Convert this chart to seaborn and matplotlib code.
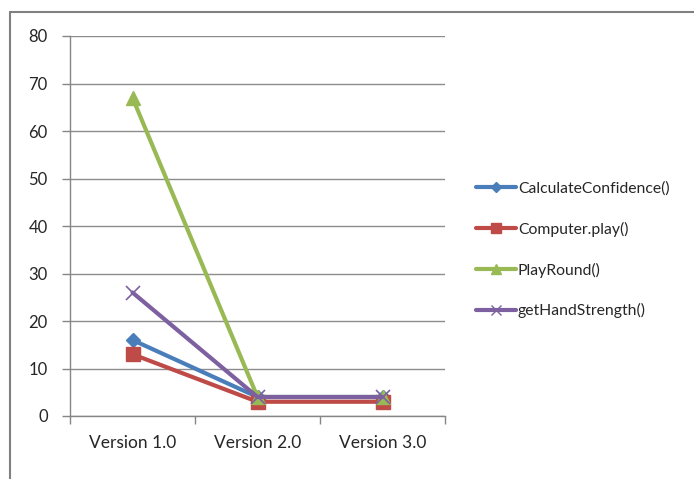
import matplotlib
matplotlib.use("Agg")
import matplotlib.pyplot as plt
import seaborn as sns
import pandas as pd
from matplotlib.lines import Line2D

versions = ["Version 1.0", "Version 2.0", "Version 3.0"]
calc_conf = [16, 4, 4]
computer_play = [13, 3, 3]
play_round = [67, 4, 4]
hand_strength = [26, 4, 4]
series_names = ["CalculateConfidence()", "Computer.play()", "PlayRound()", "getHandStrength()"]
y_ticks = [0, 10, 20, 30, 40, 50, 60, 70, 80]

colors = ["#4A7EBB", "#BE4B48", "#98B954", "#7D60A0"]
markers = ["D", "s", "^", "x"]
msizes = [7, 10, 10, 10]

sns.set_style("white")
plt.rcParams['font.family'] = ['Lato', 'DejaVu Sans']

rows = []
for name, vals in zip(series_names, [calc_conf, computer_play, play_round, hand_strength]):
    for i, (v, val) in enumerate(zip(versions, vals)):
        rows.append({"Version": v, "idx": i, "Value": val, "Series": name})
df = pd.DataFrame(rows)

fig = plt.figure(figsize=(6.94, 4.79), dpi=100)
ax = fig.add_axes([70/694, 1-416/479, 375/694, 380/479])

for name, c, m, ms in zip(series_names, colors, markers, msizes):
    sub = df[df["Series"] == name]
    sns.lineplot(data=sub, x="idx", y="Value", ax=ax, color=c, marker=m,
                 markersize=ms, linewidth=3, markeredgecolor=c,
                 markeredgewidth=1 if m != "x" else 1.2, label=name, legend=False)

ax.set_xlim(-0.5, 2.5)
ax.set_ylim(0, 80)
ax.set_yticks(y_ticks)
ax.set_yticklabels([str(t) for t in y_ticks], fontsize=12)
ax.set_xticks([-0.5, 0.5, 1.5, 2.5])
ax.set_xticklabels([])
ax.set_xticks([0, 1, 2], minor=True)
ax.set_xticklabels(versions, minor=True, fontsize=12.5)
ax.tick_params(axis="x", which="major", length=6, width=1, color="#868686", direction="out", bottom=True)
ax.tick_params(axis="x", which="minor", length=0, pad=14)
ax.tick_params(axis="y", length=6, width=1, color="#868686", direction="out", left=True, pad=10)
ax.set_xlabel("")
ax.set_ylabel("")
ax.grid(axis="y", color="#8c8c8c", linewidth=1)
ax.set_axisbelow(True)
for s in ["top", "right"]:
    ax.spines[s].set_visible(False)
for s in ["left", "bottom"]:
    ax.spines[s].set_color("#868686")
    ax.spines[s].set_linewidth(1)

handles = [Line2D([0], [0], color=c, linewidth=3, marker=m, markersize=ms*0.7,
                  markeredgecolor=c, markeredgewidth=1)
           for c, m, ms in zip(colors, markers, msizes)]
fig.legend(handles, series_names, loc="upper left", bbox_to_anchor=(470/694, 1-175/479),
           frameon=False, fontsize=11.3, handlelength=2.5, handletextpad=0.15,
           labelspacing=1.65, borderaxespad=0)

# outer chart frame (partially cut off)
fig.add_artist(Line2D([10/694, 10/694], [0, 1-12/479], color="#808080", linewidth=1.5,
                      transform=fig.transFigure))
fig.add_artist(Line2D([10/694, 1], [1-12/479, 1-12/479], color="#808080", linewidth=1.5,
                      transform=fig.transFigure))

fig.savefig("out.png", dpi=100)
